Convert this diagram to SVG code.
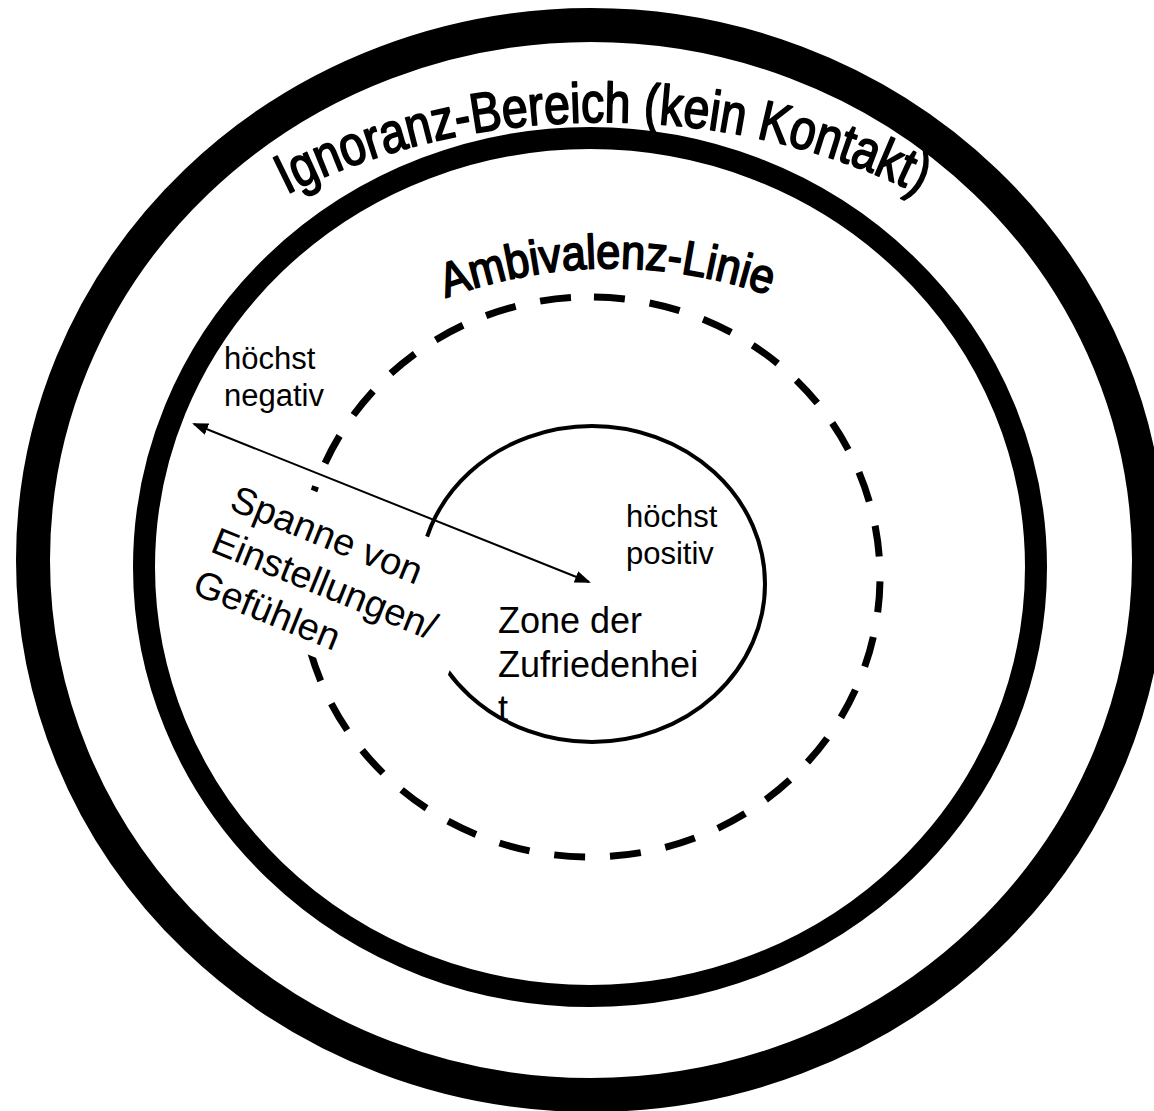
<svg xmlns="http://www.w3.org/2000/svg" width="1154" height="1111" viewBox="0 0 1154 1111">
<style>
.t{font-family:"Liberation Sans",Arial,sans-serif;fill:#000}
.art{font-family:"Liberation Sans",Arial,sans-serif;fill:#000;stroke:#000;stroke-width:1.8;stroke-linejoin:round}
.ring{fill:none;stroke:#000}
</style>
<defs>
<marker id="ah" viewBox="0 0 16 12" refX="14" refY="6" markerWidth="16" markerHeight="12" markerUnits="userSpaceOnUse" orient="auto-start-reverse">
<path d="M0,0 L16,6 L0,12 z" fill="#000"/>
</marker>
<path id="arcOuter" d="M 28 562 A 575 440 0 0 1 1178 562"/>
<path id="arcAmb" d="M 440 300 Q 606 238 775 297"/>
</defs>
<rect x="0" y="0" width="1154" height="1111" fill="#fff"/>
<g id="ignoranz-ring">
<ellipse class="ring" cx="591" cy="560" rx="558" ry="535" stroke-width="34"/>
<text class="art" font-size="56"><textPath href="#arcOuter" startOffset="50%" text-anchor="middle" textLength="655" lengthAdjust="spacingAndGlyphs">Ignoranz-Bereich (kein Kontakt)</textPath></text>
</g>
<g id="kontakt-ring">
<ellipse class="ring" cx="590" cy="567" rx="446" ry="429" stroke-width="22"/>
</g>
<g id="ambivalenz-linie">
<path class="ring" d="M 590 297 A 290 280 0 1 1 590 857 A 290 280 0 1 1 590 297" stroke-width="7" stroke-dasharray="31 25" stroke-dashoffset="52"/>
<text class="art" font-size="48"><textPath href="#arcAmb" startOffset="50%" text-anchor="middle" textLength="330" lengthAdjust="spacingAndGlyphs">Ambivalenz-Linie</textPath></text>
</g>
<g id="zone-zufriedenheit">
<ellipse class="ring" cx="592" cy="584" rx="173" ry="158" stroke-width="4"/>
</g>
<g id="spanne" transform="translate(228 509) rotate(22)">
<rect x="-27" y="-49" width="293" height="154" fill="#fff"/>
<text class="t" font-size="38" x="0" y="0">Spanne von</text>
<text class="t" font-size="38" x="-2" y="46">Einstellungen/</text>
<text class="t" font-size="38" x="-3" y="92">Gefühlen</text>
</g>
<g id="labels">
<text class="t" font-size="31" x="224" y="369">höchst</text>
<text class="t" font-size="31" x="224" y="406">negativ</text>
<text class="t" font-size="31" x="626" y="527">höchst</text>
<text class="t" font-size="31" x="626" y="564">positiv</text>
<text class="t" font-size="36" x="498" y="633">Zone der</text>
<text class="t" font-size="36" x="498" y="677">Zufriedenhei</text>
<text class="t" font-size="36" x="498" y="721">t</text>
</g>
<g id="connectors">
<line x1="194" y1="424" x2="589" y2="582" stroke="#000" stroke-width="2" marker-start="url(#ah)" marker-end="url(#ah)"/>
</g>
</svg>
